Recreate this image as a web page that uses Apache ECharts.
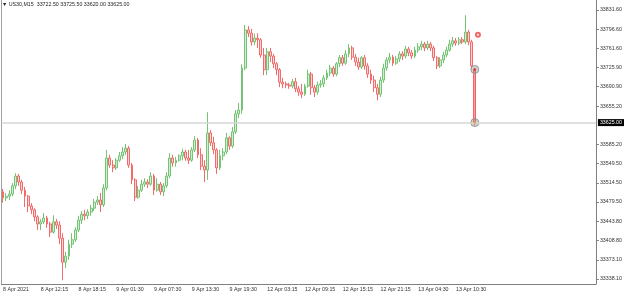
<!DOCTYPE html>
<html>
<head>
<meta charset="utf-8">
<script src="https://cdn.jsdelivr.net/npm/echarts@6.0.0/dist/echarts.min.js"></script>
<style>html,body{margin:0;padding:0;background:#fff;}#c{width:625px;height:296px;}</style>
</head>
<body>
<div id="c"></div>
<script>
const tickLabels = ["8 Apr 2021","8 Apr 12:15","8 Apr 18:15","9 Apr 01:30","9 Apr 07:30","9 Apr 13:30","9 Apr 19:30","12 Apr 03:15","12 Apr 09:15","12 Apr 15:15","12 Apr 21:15","13 Apr 04:30","13 Apr 10:30"];
const barsPerTick = 12;
const totalSlots = 189;
const yTicks = [33831.6,33796.6,33761.6,33725.9,33690.9,33655.2,33585.2,33549.5,33514.5,33479.5,33443.8,33408.8,33373.1,33338.1];
const yMin = 33328.9, yMax = 33849.9;
const bidPrice = 33625.0;

const opens = [
33498,33487,33490,33494,33509,33527,33516,33501,33490,33472,
33465,33452,33439,33443,33450,33439,33424,33443,33437,33413,
33369,33380,33402,33410,33428,33446,33457,33454,33461,33468,
33479,33483,33474,33505,33560,33547,33542,33556,33564,33571,
33578,33547,33520,33488,33501,33512,33516,33512,33527,33501,
33512,33498,33509,33527,33560,33551,33556,33564,33571,33560,
33556,33575,33593,33566,33545,33538,33606,33588,33575,33542,
33564,33571,33597,33582,33608,33641,33648,33725,33795,33789,
33773,33780,33777,33749,33722,33755,33747,33733,33722,33699,
33696,33694,33692,33700,33687,33681,33677,33692,33714,33689,
33681,33694,33696,33707,33716,33725,33714,33733,33744,33734,
33751,33762,33745,33736,33727,33744,33729,33714,33703,33689,
33677,33703,33725,33740,33745,33734,33742,33751,33747,33760,
33753,33747,33758,33764,33769,33762,33769,33762,33744,33729,
33740,33749,33758,33769,33775,33771,33777,33773,33791,33773,
33722.5];
const closes = [
33487,33490,33494,33509,33527,33516,33501,33490,33472,33465,
33452,33439,33443,33450,33439,33424,33443,33437,33413,33369,
33380,33402,33410,33428,33446,33457,33454,33461,33468,33479,
33483,33474,33505,33560,33547,33542,33556,33564,33571,33578,
33547,33520,33488,33501,33512,33516,33512,33527,33501,33512,
33498,33509,33527,33560,33551,33556,33564,33571,33560,33556,
33575,33593,33566,33545,33538,33606,33588,33575,33542,33564,
33571,33597,33582,33608,33641,33648,33725,33795,33789,33773,
33780,33777,33749,33722,33755,33747,33733,33722,33699,33696,
33694,33692,33700,33687,33681,33677,33692,33714,33689,33681,
33694,33696,33707,33716,33725,33714,33733,33744,33734,33751,
33762,33745,33736,33727,33744,33729,33714,33703,33689,33677,
33703,33725,33740,33745,33734,33742,33751,33747,33760,33753,
33747,33758,33764,33769,33762,33769,33762,33744,33729,33740,
33749,33758,33769,33775,33771,33777,33773,33791,33773,33729,
33625];
const lows = [
33478,33481,33483,33490,33503,33509,33494,33470,33461,33457,
33444,33428,33428,33439,33432,33415,33421,33430,33402,33336,
33358,33373,33395,33406,33424,33439,33446,33448,33454,33463,
33474,33461,33470,33501,33542,33534,33538,33553,33558,33566,
33542,33512,33481,33485,33498,33507,33505,33509,33492,33498,
33492,33490,33505,33523,33544,33544,33553,33556,33555,33549,
33553,33571,33560,33538,33516,33520,33582,33567,33531,33538,
33556,33567,33575,33578,33604,33633,33641,33721,33782,33766,
33767,33762,33744,33712,33712,33736,33725,33712,33690,33688,
33688,33687,33688,33681,33674,33670,33674,33689,33676,33672,
33676,33689,33690,33703,33710,33709,33710,33727,33729,33731,
33745,33740,33729,33722,33723,33722,33707,33696,33681,33666,
33672,33698,33720,33734,33729,33731,33736,33740,33743,33747,
33742,33743,33753,33758,33756,33758,33756,33738,33723,33725,
33734,33745,33755,33764,33766,33767,33769,33769,33767,33723,
33620];
const highs = [
33503,33496,33501,33514,33532,33531,33520,33507,33492,33477,
33468,33455,33448,33459,33454,33443,33455,33448,33444,33422,
33388,33410,33422,33433,33454,33463,33465,33466,33474,33485,
33490,33496,33512,33575,33566,33556,33560,33571,33580,33586,
33582,33551,33523,33509,33520,33523,33521,33534,33531,33523,
33516,33514,33534,33569,33566,33562,33567,33577,33575,33575,
33580,33600,33597,33578,33556,33644,33611,33599,33578,33575,
33578,33606,33600,33617,33648,33661,33732,33804,33802,33797,
33788,33789,33780,33762,33762,33762,33751,33736,33725,33707,
33700,33698,33705,33707,33692,33696,33696,33722,33718,33694,
33700,33703,33712,33722,33731,33729,33736,33749,33749,33758,
33769,33766,33751,33744,33747,33749,33734,33722,33711,33696,
33709,33733,33745,33753,33749,33747,33756,33756,33766,33764,
33758,33764,33771,33775,33773,33775,33773,33766,33747,33745,
33755,33764,33777,33782,33780,33782,33782,33822,33795,33777,
33725.5];

const tradeIndex = 150;
const tradeOpen = 33722.5, tradeClose = 33625.0;
const tradeMark = [151, 33786];

const categories = [];
for (let i = 0; i < totalSlots; i++) {
  const k = i / barsPerTick;
  categories.push(i % barsPerTick === 0 && k < tickLabels.length ? tickLabels[k] : '');
}
const candleData = opens.map((o, i) => [o, closes[i], lows[i], highs[i]]);
const showTick = (i) => i % barsPerTick === 0 && i / barsPerTick < tickLabels.length;
const FONT = 'Liberation Sans, DejaVu Sans, sans-serif';

const chart = echarts.init(document.getElementById('c'), null, {renderer: 'canvas'});
chart.setOption({
  animation: false,
  backgroundColor: '#ffffff',
  title: {
    text: '▼ US30,M15  33722.50 33725.50 33620.00 33625.00',
    left: 2, top: 2, padding: 0,
    textStyle: {fontSize: 5.3, fontWeight: 'normal', color: '#222', fontFamily: FONT}
  },
  grid: {left: 1, right: 28, top: 0, bottom: 12},
  xAxis: {
    type: 'category', data: categories, boundaryGap: true,
    axisLine: {lineStyle: {color: '#808080', width: 1}},
    axisTick: {alignWithLabel: true, interval: showTick, length: 2, lineStyle: {color: '#808080'}},
    axisLabel: {interval: showTick, align: 'left', fontSize: 5.3, color: '#333', margin: 3, fontFamily: FONT},
    splitLine: {show: false}
  },
  yAxis: [{
    type: 'value', position: 'right', min: yMin, max: yMax,
    axisLine: {show: true, lineStyle: {color: '#808080', width: 1}},
    axisTick: {show: true, length: 3, customValues: yTicks, lineStyle: {color: '#808080'}},
    axisLabel: {customValues: yTicks, formatter: v => v.toFixed(2), fontSize: 5.3, margin: 4, color: '#333', fontFamily: FONT},
    splitLine: {show: false}
  }, {
    type: 'value', position: 'left', min: yMin, max: yMax,
    axisLine: {show: true, lineStyle: {color: '#a0a0a0', width: 1}},
    axisTick: {show: false}, axisLabel: {show: false}, splitLine: {show: false}
  }],
  series: [{
    type: 'candlestick',
    data: candleData,
    barWidth: 2.4,
    itemStyle: {color: '#d2eed2', color0: '#fcd6d6', borderColor: '#74c474', borderColor0: '#f26a6a', borderWidth: 1},
    markLine: {
      symbol: 'none', silent: true, animation: false,
      data: [{yAxis: bidPrice}],
      lineStyle: {color: '#d6d6d6', width: 1.5, type: 'solid'},
      label: {position: 'end', formatter: bidPrice.toFixed(2), backgroundColor: '#000', color: '#fff',
              fontSize: 5.3, padding: [1, 2, 1, 2], distance: 2, fontFamily: FONT}
    },
    z: 2
  }, {
    type: 'line',
    data: [[tradeIndex, tradeOpen], [tradeIndex, tradeClose]],
    symbol: 'none',
    lineStyle: {color: '#e83b3b', width: 1, type: 'dotted'},
    z: 3
  }, {
    type: 'scatter',
    data: [[tradeIndex, tradeOpen], [tradeIndex, tradeClose]],
    symbolSize: 8,
    itemStyle: {color: 'rgba(150,150,150,0.55)', borderColor: '#8a8a8a', borderWidth: 1},
    z: 4
  }, {
    type: 'scatter',
    data: [
      {value: [tradeIndex, tradeOpen], itemStyle: {color: '#e02020'}},
      {value: [tradeIndex, tradeClose], itemStyle: {color: '#f0a020'}}
    ],
    symbolSize: 2.5,
    z: 5
  }, {
    type: 'scatter',
    data: [tradeMark],
    symbol: 'emptyCircle',
    symbolSize: 4,
    itemStyle: {color: '#ee4444', borderColor: '#ee4444', borderWidth: 1},
    z: 5
  }]
});
</script>
</body>
</html>
